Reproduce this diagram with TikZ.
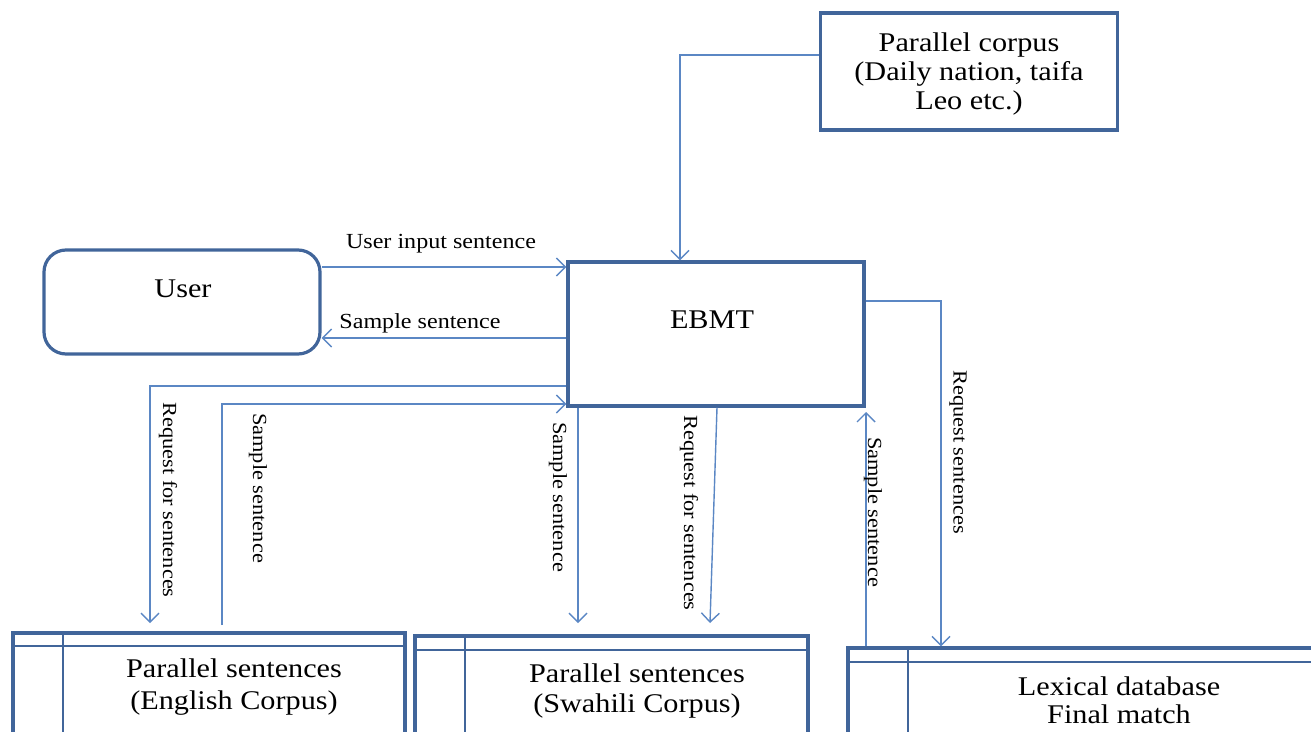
\documentclass[tikz,border=0pt]{standalone}
\usepackage{fontspec}
\setmainfont{Liberation Serif}[FakeStretch=1.12]
\usetikzlibrary{arrows.meta,calc}
\definecolor{boxc}{HTML}{41659A}
\definecolor{linec}{HTML}{5B87C4}
\tikzset{
  box/.style={draw=boxc, line width=3.2pt, inner sep=0pt},
  sep/.style={draw=boxc, line width=2.8pt},
  wire/.style={draw=linec, line width=1.4pt},
  conn/.style={wire, -{Straight Barb[length=9pt,width=18pt,line width=1.4pt]}},
  lbl/.style={font=\fontsize{20}{22}\selectfont, inner sep=0pt},
  hlbl/.style={font=\fontsize{21.5}{23}\selectfont, inner sep=0pt},
  btxt/.style={font=\fontsize{27}{30}\selectfont, align=center, inner sep=0pt},
}
\begin{document}
\begin{tikzpicture}[x=1pt,y=-1pt]
\useasboundingbox (0,0) rectangle (1311,731);
\clip (0,0) rectangle (1311,731);

% main boxes
\node[box, minimum width=297pt, minimum height=117pt] (corpus) at (969,71.5) {};
\node[btxt, font=\fontsize{27}{29}\selectfont] (corpust) at (969,74) {Parallel corpus\\(Daily nation, taifa\\Leo etc.)};

\node[box, rounded corners=22pt, minimum width=276pt, minimum height=104pt] (user) at (182,302) {};
\node[btxt] (usert) at (183,289) {User};

\node[box, minimum width=296pt, minimum height=144pt] (ebmt) at (716,334) {};
\node[btxt] (ebmtt) at (712,320) {EBMT};

% bottom data stores
\node[box, minimum width=392pt, minimum height=134pt] (eng) at (209,700) {};
\coordinate (engh) at (0,646);
\coordinate (engd) at (63,0);
\draw[sep] (eng.west |- engh) -- (eng.east |- engh);
\draw[sep] (engd |- eng.north) -- (engd |- eng.south);
\node[btxt, font=\fontsize{27}{32}\selectfont] (engt) at (234,687) {Parallel sentences\\(English Corpus)};

\node[box, minimum width=393pt, minimum height=134pt] (swa) at (611.5,703) {};
\coordinate (swah) at (0,650);
\coordinate (swad) at (465,0);
\draw[sep] (swa.west |- swah) -- (swa.east |- swah);
\draw[sep] (swad |- swa.north) -- (swad |- swa.south);
\node[btxt, font=\fontsize{27}{30}\selectfont] (swat) at (637,691) {Parallel sentences\\(Swahili Corpus)};

\node[box, minimum width=482pt, minimum height=134pt] (lex) at (1089,715) {};
\coordinate (lexh) at (0,662);
\coordinate (lexd) at (908,0);
\draw[sep] (lex.west |- lexh) -- (lex.east |- lexh);
\draw[sep] (lexd |- lex.north) -- (lexd |- lex.south);
\node[btxt, font=\fontsize{27}{28}\selectfont] (lext) at (1119,700) {Lexical database\\Final match};

% connectors
\coordinate (c1) at (680,55);
\draw[conn] (corpus.west |- c1) -- (c1) -- (c1 |- ebmt.north);

\coordinate (c2) at (0,267);
\draw[conn] (user.east |- c2) -- (ebmt.west |- c2);
\node[hlbl] (l2) at (441,244) {User input sentence};

\coordinate (c3) at (0,338);
\draw[conn] (ebmt.west |- c3) -- (user.east |- c3);
\node[hlbl] (l3) at (420,323) {Sample sentence};

\coordinate (c4) at (150,386);
\coordinate (c4e) at (150,623);
\draw[conn] (ebmt.west |- c4) -- (c4) -- (c4e);
\node[lbl, rotate=-90] (l4) at (168,500) {Request for sentences};

\coordinate (c5s) at (222,625);
\coordinate (c5) at (222,404);
\draw[conn] (c5s) -- (c5) -- (ebmt.west |- c5);
\node[lbl, rotate=-90] (l5) at (258,488) {Sample sentence};

\coordinate (c6) at (578,623);
\draw[conn] (c6 |- ebmt.south) -- (c6);
\node[lbl, rotate=-90] (l6) at (558,497) {Sample sentence};

\coordinate (c7s) at (717,0);
\coordinate (c7) at (710,623);
\draw[conn] (c7s |- ebmt.south) -- (c7);
\node[lbl, rotate=-90] (l7) at (689,513) {Request for sentences};

\coordinate (c8) at (866,412);
\draw[conn] (c8 |- lex.north) -- (c8);
\node[lbl, rotate=-90] (l8) at (873,512) {Sample sentence};

\coordinate (c9) at (941,301);
\draw[conn] (ebmt.east |- c9) -- (c9) -- (c9 |- lex.north);
\node[lbl, rotate=-90] (l9) at (958,452) {Request sentences};
\end{tikzpicture}
\end{document}
